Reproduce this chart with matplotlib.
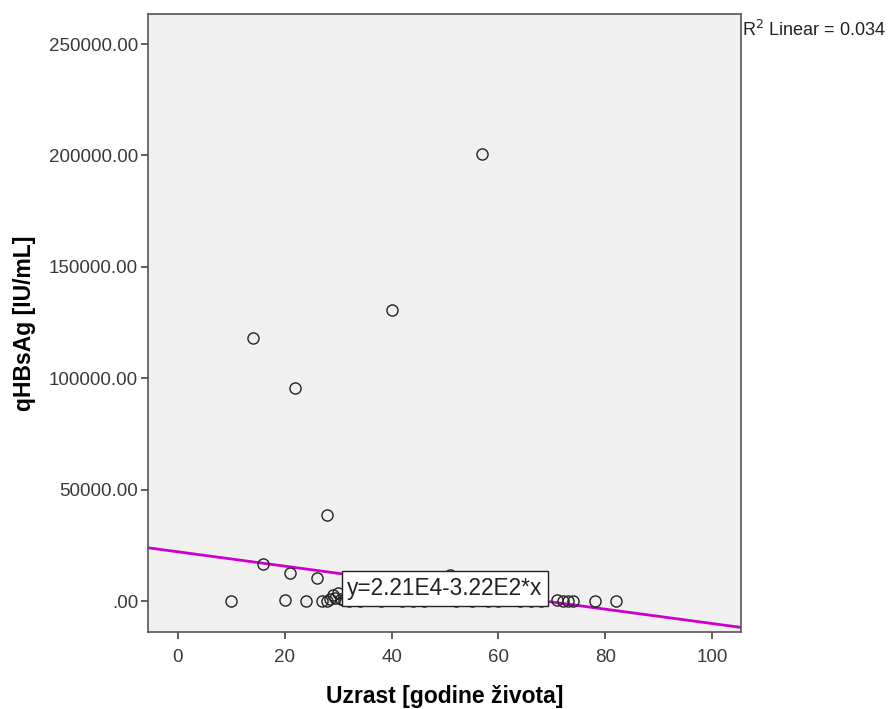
"""
Scatter of qHBsAg against age with a linear fit line
"""

import numpy as np
import matplotlib.pyplot as plt

plt.rcParams['font.family'] = ['Liberation Sans', 'DejaVu Sans']

# age (years) and qHBsAg (IU/mL) per patient
age = [10, 14, 16, 20, 21, 22, 24, 26, 27, 28, 28, 28.5, 29, 29.5, 30, 30.5, 31,
       32, 34, 36, 38, 40, 42, 44, 46, 48, 51, 52, 55, 57, 58, 60, 62, 64, 66, 68,
       71, 72, 73, 74, 78, 82]
qhbsag = [0, 118000, 16500, 500, 12500, 95500, 0, 10300, 0, 38600, 0, 1000, 2500,
          1500, 3500, 800, 300, 200, 100, 300, 0, 130600, 200, 100, 0, 300, 11700,
          0, 200, 200500, 100, 0, 300, 0, 200, 100, 500, 0, 0, 0, 0, 0]

# fitted linear model
intercept = 2.21e4
slope = -3.22e2
r_squared = 0.034

x_ticks = [0, 20, 40, 60, 80, 100]
y_ticks = [0, 50000, 100000, 150000, 200000, 250000]

fig = plt.figure(figsize=(8.93, 7.09), dpi=100)
ax = fig.add_axes([0.1657, 0.1086, 0.6641, 0.8717])
ax.set_facecolor('#f0f0f0')

ax.plot(age, qhbsag, 'o', markersize=8, markerfacecolor='none',
        markeredgecolor='#222222', markeredgewidth=1.0, zorder=3)

xlim = (-5.6, 105.4)
xs = np.array(xlim)
ax.plot(xs, intercept + slope * xs, color='#cc00cc', linewidth=2, zorder=2)

ax.set_xlim(*xlim)
ax.set_ylim(-13900, 263500)
ax.set_xticks(x_ticks)
ax.set_yticks(y_ticks)
ax.set_yticklabels(['.00' if v == 0 else f'{v:.2f}' for v in y_ticks])
ax.tick_params(direction='out', length=5, width=1.2, color='#444444',
               labelsize=13.5, labelcolor='#3a3a3a')
ax.tick_params(axis='x', pad=7)
ax.tick_params(axis='y', pad=2)
for side in ['top', 'right', 'left', 'bottom']:
    ax.spines[side].set_color('#555555')
    ax.spines[side].set_linewidth(1.2)

ax.set_xlabel('Uzrast [godine života]', fontsize=16.5, fontweight='bold', labelpad=14)
ax.set_ylabel('qHBsAg [IU/mL]', fontsize=16.5, fontweight='bold', labelpad=9)

# equation box over the fit line
eq = f'y={intercept:.2E}'.replace('E+0', 'E') + f'{slope:.2E}'.replace('E+0', 'E') + '*x'
ax.text(31.7, 5600, eq, fontsize=16.3, color='#222222', va='center', ha='left', zorder=4,
        bbox=dict(boxstyle='square,pad=0.25', facecolor='white', edgecolor='#222222', linewidth=1))

fig.text(0.831, 0.958, f'R$^2$ Linear = {r_squared:.3f}', fontsize=13, color='#222222',
         ha='left', va='center')

plt.savefig('out.png', dpi=100)
